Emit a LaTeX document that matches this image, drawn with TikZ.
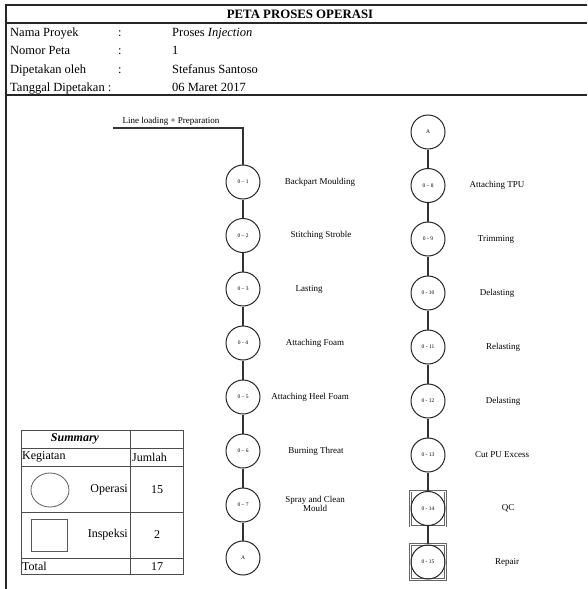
\documentclass[tikz,border=0pt]{standalone}
\usepackage{fontspec}
\setmainfont{Liberation Serif}
\begin{document}
\begin{tikzpicture}[x=1pt,y=-1pt,
  op/.style={circle,draw=black!85,line width=1pt,minimum size=34pt,inner sep=0pt,font=\fontsize{5.5}{6}\selectfont},
  insp/.style={rectangle,draw=black!60,double=white,double distance=0.8pt,line width=0.8pt,minimum size=35pt,inner sep=0pt},
  lbl/.style={font=\fontsize{9}{9.5}\selectfont,align=center,inner sep=0pt},
  link/.style={draw=black!80,line width=1.1pt},
  frame/.style={draw=black!85,line width=1.6pt},
  hdr/.style={font=\fontsize{12.5}{14}\selectfont,anchor=base west,inner sep=0pt},
  cell/.style={draw=black!70,line width=0.8pt},
  ctext/.style={font=\fontsize{12}{14}\selectfont,inner sep=0pt},
  legend/.style={draw=black!65,line width=0.8pt}
]
\useasboundingbox (0,0) rectangle (587,589);
% frame
\draw[frame] (587,5) -- (6,5) -- (6,589);
\draw[frame] (6,23) -- (587,23);
\draw[frame] (6,95) -- (587,95);
\node[font=\bfseries\fontsize{12.8}{14}\selectfont,inner sep=0pt] (title) at (300,14) {PETA PROSES OPERASI};
% header
\node[hdr] (h1) at (10,36) {Nama Proyek};
\node[hdr] (c1) at (118,36) {:};
\node[hdr] (v1) at (172,36) {Proses \textit{Injection}};
\node[hdr] (h2) at (10,54.5) {Nomor Peta};
\node[hdr] (c2) at (118,54.5) {:};
\node[hdr] (v2) at (172,54.5) {1};
\node[hdr] (h3) at (10,73) {Dipetakan oleh};
\node[hdr] (c3) at (118,73) {:};
\node[hdr] (v3) at (172,73) {Stefanus Santoso};
\node[hdr] (h4) at (10,91.5) {Tanggal Dipetakan :};
\node[hdr] (v4) at (172,91.5) {06 Maret 2017};
% left column
\node[op] (o1) at (243,182) {0 -- 1};
\node[op] (o2) at (243,235.5) {0 -- 2};
\node[op] (o3) at (243,289) {0 -- 3};
\node[op] (o4) at (243,343) {0 - 4};
\node[op] (o5) at (243,397) {0 -- 5};
\node[op] (o6) at (243,451) {0 -- 6};
\node[op] (o7) at (243,505) {0 -- 7};
\node[op] (a1) at (243,558) {A};
% right column
\node[op] (a2) at (428,132) {A};
\node[op] (o8) at (428,185.5) {0 -- 8};
\node[op] (o9) at (428,239) {0 - 9};
\node[op] (o10) at (428,293) {0 - 10};
\node[op] (o11) at (428,347) {0 - 11};
\node[op] (o12) at (428,401) {0 - 12};
\node[op] (o13) at (428,455) {0 - 13};
\node[insp] (s14) at (428,508.5) {};
\node[op] (o14) at (428,508.5) {0 - 14};
\node[insp] (s15) at (428,562) {};
\node[op] (o15) at (428,562) {0 - 15};
% connectors
\coordinate (start) at (113,128);
\draw[link] (start) -- (o1.north |- start) -- (o1.north);
\node[lbl] (ll) at (171,121) {Line loading + Preparation};
\draw[link] (o1) -- (o2);
\draw[link] (o2) -- (o3);
\draw[link] (o3) -- (o4);
\draw[link] (o4) -- (o5);
\draw[link] (o5) -- (o6);
\draw[link] (o6) -- (o7);
\draw[link] (o7) -- (a1);
\draw[link] (a2) -- (o8);
\draw[link] (o8) -- (o9);
\draw[link] (o9) -- (o10);
\draw[link] (o10) -- (o11);
\draw[link] (o11) -- (o12);
\draw[link] (o12) -- (o13);
\draw[link] (o13) -- (s14);
\draw[link] (s14) -- (s15);
% labels
\node[lbl] (l1) at (320,182) {Backpart Moulding};
\node[lbl] (l2) at (321,235.5) {Stitching Stroble};
\node[lbl] (l3) at (309,289) {Lasting};
\node[lbl] (l4) at (315,343) {Attaching Foam};
\node[lbl] (l5) at (310,397) {Attaching Heel Foam};
\node[lbl] (l6) at (316,451) {Burning Threat};
\node[lbl] (l7) at (315,504) {Spray and Clean\\Mould};
\node[lbl] (l8) at (497,185.5) {Attaching TPU};
\node[lbl] (l9) at (496,239) {Trimming};
\node[lbl] (l10) at (497,293) {Delasting};
\node[lbl] (l11) at (503,347) {Relasting};
\node[lbl] (l12) at (503,401) {Delasting};
\node[lbl] (l13) at (502,455) {Cut PU Excess};
\node[lbl] (l14) at (508,508.5) {QC};
\node[lbl] (l15) at (507,562) {Repair};
% summary table
\draw[cell] (21,430) rectangle (183,574);
\draw[cell] (21,448) -- (183,448);
\draw[cell] (21,466) -- (183,466);
\draw[cell] (21,512) -- (183,512);
\draw[cell] (21,558) -- (183,558);
\draw[cell] (130,430) -- (130,574);
\node[ctext,font=\bfseries\itshape\fontsize{12}{14}\selectfont] (sum) at (75,439) {Summary};
\node[ctext,anchor=west] (keg) at (22,457) {Kegiatan};
\node[ctext,anchor=west] (jml) at (132,457) {Jumlah};
\draw[legend] (50,490) ellipse [x radius=19, y radius=17];
\node[ctext,anchor=east] (opr) at (128,490) {Operasi};
\node[ctext] (n15) at (157,490) {15};
\draw[legend] (31,519) rectangle (67,551);
\node[ctext,anchor=east] (ins) at (128,535) {Inspeksi};
\node[ctext] (n2) at (157,535) {2};
\node[ctext,anchor=west] (tot) at (22,566.5) {Total};
\node[ctext] (n17) at (157,566.5) {17};
\end{tikzpicture}
\end{document}
